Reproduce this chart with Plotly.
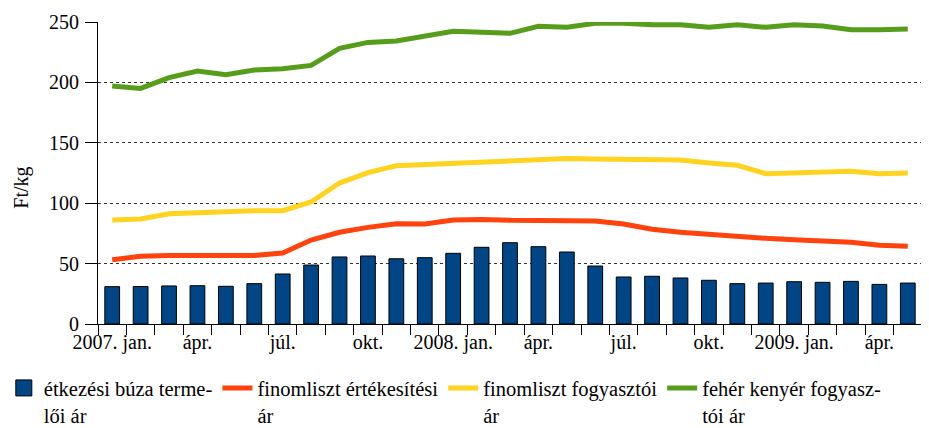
import plotly.graph_objects as go

months = ["2007-01","2007-02","2007-03","2007-04","2007-05","2007-06","2007-07","2007-08","2007-09","2007-10","2007-11","2007-12",
          "2008-01","2008-02","2008-03","2008-04","2008-05","2008-06","2008-07","2008-08","2008-09","2008-10","2008-11","2008-12",
          "2009-01","2009-02","2009-03","2009-04","2009-05"]
tick_labels = ["2007. jan.","","","ápr.","","","júl.","","","okt.","","",
               "2008. jan.","","","ápr.","","","júl.","","","okt.","","",
               "2009. jan.","","","ápr.",""]

buza = [30.9,31.0,31.5,31.7,31.2,33.4,41.4,48.8,55.5,56.3,54.0,54.9,58.5,63.5,67.3,64.0,59.6,48.0,38.9,39.5,38.1,36.2,33.4,33.9,35.0,34.5,35.3,32.8,33.9]
liszt_ert = [53.2,56.0,56.8,56.6,57.1,56.8,58.8,69.5,75.9,80.0,83.0,82.8,86.1,86.6,85.8,85.3,85.8,85.3,82.8,78.4,75.9,74.2,71.8,70.9,69.8,68.7,67.6,65.1,64.3]
liszt_fogy = [86.1,86.9,91.3,92.1,93.8,93.8,93.8,101.0,116.7,125.3,131.0,131.9,133.0,134.1,135.2,135.8,136.9,136.6,136.6,136.6,135.8,133.3,131.4,124.4,125.3,125.3,126.4,124.4,124.9]
kenyer = [197.0,195.0,203.9,209.4,206.4,210.3,211.3,214.1,228.2,233.1,234.3,238.2,242.3,241.5,240.6,246.4,245.6,249.0,249.0,247.8,247.8,245.6,247.8,245.6,247.8,246.7,243.6,243.6,244.2]

names = ["étkezési búza terme-<br>lői ár", "finomliszt értékesítési<br>ár",
         "finomliszt fogyasztói<br>ár", "fehér kenyér fogyasz-<br>tói ár"]
colors = ["#004586", "#ff420e", "#ffd320", "#579d1c"]
y_title = "Ft/kg"

font = "Liberation Serif, Times New Roman, serif"

fig = go.Figure()
fig.add_trace(go.Bar(x=months, y=buza, name=names[0], showlegend=False,
                     marker=dict(color=colors[0], line=dict(color="#000000", width=1))))
# legend entry for the bars (larger square swatch)
fig.add_trace(go.Scatter(x=[months[0]], y=[None], name=names[0], mode="markers",
                         marker=dict(symbol="square", size=16, color=colors[0], line=dict(color="#000000", width=1))))
for vals, nm, c in zip([liszt_ert, liszt_fogy, kenyer], names[1:], colors[1:]):
    fig.add_trace(go.Scatter(x=months, y=vals, name=nm, mode="lines", line=dict(color=c, width=5)))

# the page body has an 8px default margin, so the figure is sized to fit the 929x428 window
fig.update_layout(
    width=921, height=420,
    margin=dict(l=90, r=7, t=14, b=104, autoexpand=False),
    plot_bgcolor="white", paper_bgcolor="white",
    font=dict(family=font, size=19, color="#000000"),
    bargap=0.48,
    showlegend=True,
    legend=dict(orientation="h", xref="paper", yref="paper", x=-0.1143, xanchor="left",
                y=-0.146, yanchor="top", font=dict(family=font, size=20.5), valign="top",
                traceorder="normal", itemwidth=30, bgcolor="rgba(0,0,0,0)"),
    xaxis=dict(type="category", tickmode="array", tickvals=months, ticktext=tick_labels,
               range=[-0.5, len(months) - 0.5], autorange=False, automargin=False,
               tickson="boundaries", ticks="outside", ticklen=10, tickcolor="#000000",
               showline=True, linecolor="#000000", linewidth=1, showgrid=False,
               tickfont=dict(family=font, size=20), tickangle=0),
    yaxis=dict(range=[0, 250], tickvals=[0, 50, 100, 150, 200, 250], showline=True, linecolor="#000000",
               ticks="outside", ticklen=12, tickcolor="#000000", ticklabelstandoff=2, automargin=False,
               showgrid=True, gridcolor="#333333", griddash="3px,3px", gridwidth=1,
               zeroline=False, tickfont=dict(family=font, size=20)),
    annotations=[dict(text=y_title, xref="paper", yref="paper", x=-0.0928, y=0.45,
                      xanchor="center", yanchor="middle", textangle=-90, showarrow=False,
                      font=dict(family=font, size=20))],
)
fig.write_html("out.html")
